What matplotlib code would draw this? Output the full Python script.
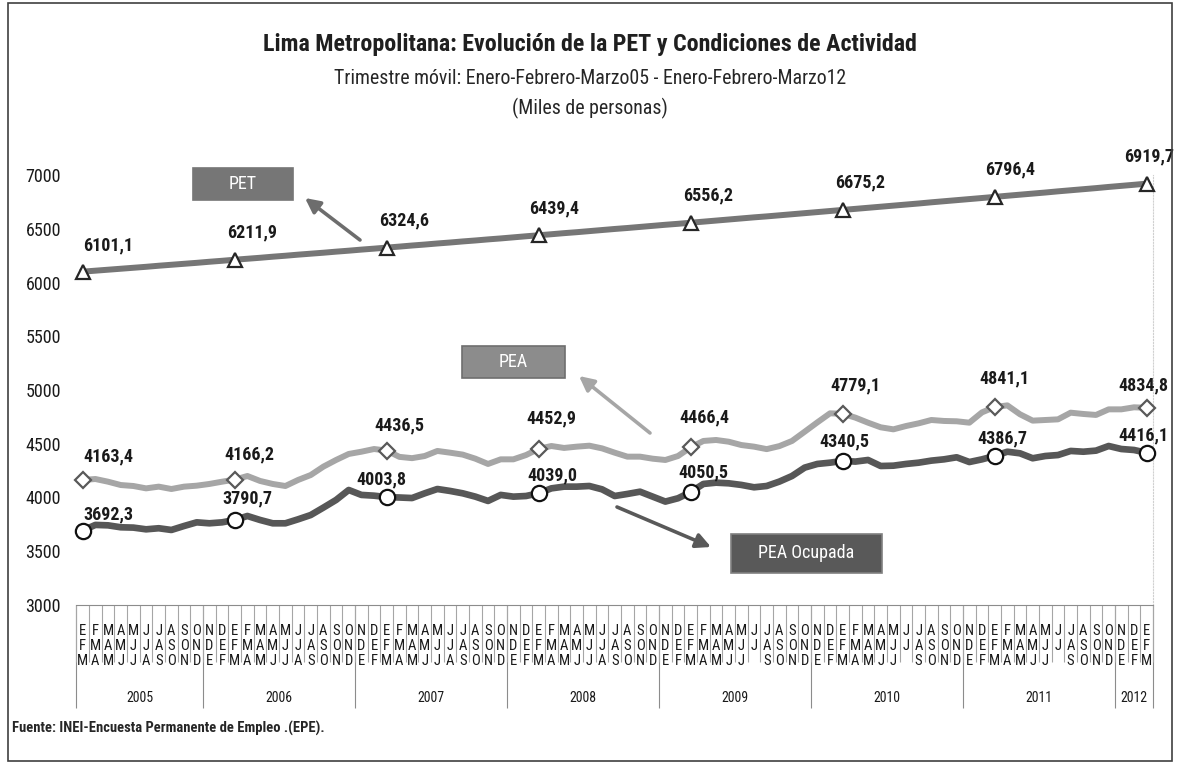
import numpy as np
import matplotlib
matplotlib.use('Agg')
import matplotlib.pyplot as plt
from matplotlib import font_manager
from matplotlib.patches import Rectangle


def pick_font(names):
    for n in names:
        try:
            font_manager.findfont(n, fallback_to_default=False)
            return n
        except ValueError:
            continue
    return 'DejaVu Sans'


FONT = pick_font(['Liberation Sans Narrow', 'Roboto Condensed', 'Arial Narrow', 'Liberation Sans'])
plt.rcParams['font.family'] = [FONT, 'DejaVu Sans']

# ---- datos (miles de personas), trimestre movil EFM05 .. EFM12 ----
pet = [6101.1, 6110, 6119, 6128, 6137, 6146, 6156, 6165, 6174, 6183, 6193, 6202,
       6211.9, 6221, 6230, 6240, 6249, 6259, 6268, 6277, 6287, 6296, 6306, 6315,
       6324.6, 6334, 6344, 6353, 6363, 6372, 6382, 6391, 6401, 6410, 6420, 6430,
       6439.4, 6449, 6459, 6468, 6478, 6488, 6498, 6507, 6517, 6527, 6537, 6546,
       6556.2, 6566, 6576, 6586, 6596, 6606, 6615, 6625, 6635, 6645, 6655, 6665,
       6675.2, 6685, 6695, 6705, 6715, 6725, 6735, 6746, 6756, 6766, 6776, 6786,
       6796.4, 6807, 6817, 6827, 6837, 6848, 6858, 6868, 6878, 6889, 6899, 6909,
       6919.7]

pea = [4163.4, 4172, 4147, 4116, 4107, 4085, 4101, 4079, 4101, 4110, 4126, 4147,
       4166.2, 4200, 4154, 4126, 4107, 4163, 4209, 4287, 4349, 4405, 4426, 4451,
       4436.5, 4378, 4366, 4386, 4433, 4417, 4399, 4361, 4312, 4355, 4355, 4395,
       4452.9, 4479, 4461, 4473, 4482, 4457, 4417, 4380, 4380, 4361, 4349, 4386,
       4466.4, 4526, 4535, 4519, 4488, 4473, 4450, 4478, 4526, 4612, 4699, 4783,
       4779.1, 4743, 4696, 4653, 4634, 4665, 4690, 4721, 4712, 4709, 4696, 4792,
       4841.1, 4857, 4774, 4715, 4721, 4727, 4789, 4777, 4768, 4820, 4820, 4839,
       4834.8]

pea_ocupada = [3692.3, 3745, 3741, 3723, 3720, 3704, 3714, 3698, 3735, 3769, 3760, 3769,
               3790.7, 3828, 3791, 3760, 3760, 3797, 3837, 3906, 3977, 4070, 4024, 4017,
               4003.8, 4000, 3995, 4039, 4079, 4061, 4039, 4008, 3968, 4024, 4008, 4014,
               4039.0, 4085, 4101, 4101, 4107, 4076, 4014, 4033, 4054, 4008, 3962, 3993,
               4050.5, 4126, 4138, 4132, 4117, 4095, 4107, 4148, 4200, 4278, 4312, 4324,
               4340.5, 4334, 4349, 4293, 4296, 4312, 4324, 4343, 4355, 4374, 4330, 4355,
               4386.7, 4426, 4411, 4365, 4386, 4395, 4433, 4426, 4436, 4479, 4451, 4442,
               4416.1]

trimestres = ['EFM', 'FMA', 'MAM', 'AMJ', 'MJJ', 'JJA', 'JAS', 'ASO', 'SON', 'OND', 'NDE', 'DEF']
tick_labels = [trimestres[i % 12] for i in range(85)]
for i in (53, 65, 77):          # en el original el JJA de 2009-2011 sale sin la A
    tick_labels[i] = 'JJ '
years = ['2005', '2006', '2007', '2008', '2009', '2010', '2011', '2012']
year_sizes = [10, 12, 12, 12, 12, 12, 12, 3]

mark_idx = list(range(0, 85, 12))
# desplazamiento de las etiquetas (px)
pet_off = [(25, -26), (17, -27), (17, -27), (15, -27), (17, -27), (17, -27), (15, -27), (2, -27)]
pea_off = [(26, -24), (15, -25), (13, -25), (13, -30), (14, -30), (13, -28), (10, -29), (-3, -22)]
ocu_off = [(26, -16), (13, -22), (-5, -18), (14, -18), (13, -20), (2, -19), (8, -18), (-3, -17)]

W, H = 1180, 764
fig = plt.figure(figsize=(W / 100, H / 100), dpi=100)
ax = fig.add_axes([76.4 / W, 1 - 605 / H, (1153 - 76.4) / W, 430 / H])

x = np.arange(len(pet))


def fmt(v):
    return f'{v:.1f}'.replace('.', ',')


def draw(series, color, marker, ms, mec, offs, lw=4.3):
    ax.plot(x, series, color=color, lw=lw, solid_joinstyle='round', clip_on=False, zorder=2)
    xs = [x[i] for i in mark_idx]
    ys = [series[i] for i in mark_idx]
    ax.plot(xs, ys, ls='none', marker=marker, ms=ms, mfc='white', mec=mec, mew=1.6,
            clip_on=False, zorder=3)
    for xi, yi, (dx, dy) in zip(xs, ys, offs):
        ax.annotate(fmt(yi), (xi, yi), xytext=(dx * 0.72, -dy * 0.72), textcoords='offset points',
                    ha='center', va='center', fontsize=13, fontweight='bold', color='#1a1a1a')


draw(pet, '#767676', '^', 10, '#262626', pet_off)
draw(pea, '#a6a6a6', 'D', 8, '#595959', pea_off)
draw(pea_ocupada, '#575757', 'o', 11, '#111111', ocu_off, lw=4.8)

ax.set_xlim(-0.5, 84.5)
ax.set_ylim(3000, 7000)
ax.set_yticks(np.arange(3000, 7001, 500))
ax.tick_params(axis='y', length=0, pad=11, labelsize=13, labelcolor='#1a1a1a')

ax.set_xticks(x)
ax.set_xticklabels(['\n'.join(t) for t in tick_labels], fontsize=10.5, linespacing=1.05,
                   color='#1a1a1a')
ax.tick_params(axis='x', which='major', length=0, pad=14)
ax.set_xticks(np.arange(-0.5, 85, 1), minor=True)
ax.tick_params(axis='x', which='minor', length=41, width=0.8, color='#a6a6a6')

for s in ['top', 'left']:
    ax.spines[s].set_visible(False)
ax.spines['bottom'].set_color('#8c8c8c')
ax.spines['right'].set_color('#d0d0d0')
ax.spines['right'].set_linestyle(':')
ax.spines['right'].set_linewidth(0.8)

bounds = np.concatenate([[-0.5], np.cumsum(year_sizes) - 0.5])
centers = (bounds[:-1] + bounds[1:]) / 2
sec = ax.secondary_xaxis('bottom')
sec.set_xticks(bounds, labels=[''] * len(bounds))
sec.set_xticks(centers, labels=years, minor=True)
sec.tick_params(which='major', length=74, width=0.8, color='#8c8c8c')
sec.tick_params(which='minor', length=0, pad=62, labelsize=10, labelcolor='#1a1a1a')
sec.spines['bottom'].set_visible(False)

# cajas y flechas
boxes = [('PET', (193, 168, 293, 200), '#767676', '#767676'),
         ('PEA', (462, 346, 565, 378), '#8c8c8c', '#6e6e6e'),
         ('PEA Ocupada', (731, 534, 882, 573), '#595959', '#808080')]
for txt, (x0, y0, x1, y1), fc, ec in boxes:
    fig.patches.append(Rectangle((x0 / W, 1 - y1 / H), (x1 - x0) / W, (y1 - y0) / H,
                                 transform=fig.transFigure, facecolor=fc, edgecolor=ec, lw=1.2))
    fig.text((x0 + x1) / 2 / W, 1 - (y0 + y1) / 2 / H, txt, ha='center', va='center',
             color='white', fontsize=13)

arrows = [((360, 240), (305, 198), '#6d6d6d'),
          ((650, 433), (579, 376), '#a6a6a6'),
          ((617, 507), (711, 547), '#595959')]
for (sx, sy), (tx, ty), c in arrows:
    ax.annotate('', xy=(tx, H - ty), xycoords='figure pixels',
                xytext=(sx, H - sy), textcoords='figure pixels',
                arrowprops=dict(arrowstyle='-|>', color=c, lw=2.6, mutation_scale=22,
                                shrinkA=0, shrinkB=0))

fig.text(0.5, 1 - 45 / H, 'Lima Metropolitana: Evolución de la PET y Condiciones de Actividad',
         ha='center', va='center', fontsize=17.3, fontweight='bold', color='#1f1f1f')
fig.text(0.5, 1 - 78 / H, 'Trimestre móvil: Enero-Febrero-Marzo05 - Enero-Febrero-Marzo12',
         ha='center', va='center', fontsize=14.3, color='#262626')
fig.text(0.5, 1 - 108 / H, '(Miles de personas)', ha='center', va='center', fontsize=14.3,
         color='#262626')
fig.text(12 / W, 1 - 728 / H, 'Fuente: INEI-Encuesta Permanente de Empleo .(EPE).',
         ha='left', va='center', fontsize=10.5, fontweight='bold', color='#262626')

fig.patches.append(Rectangle((8 / W, 3 / H), (1172 - 8) / W, (761 - 3) / H,
                             transform=fig.transFigure, fill=False, edgecolor='#404040', lw=1.2))

fig.savefig('out.png', dpi=100)
